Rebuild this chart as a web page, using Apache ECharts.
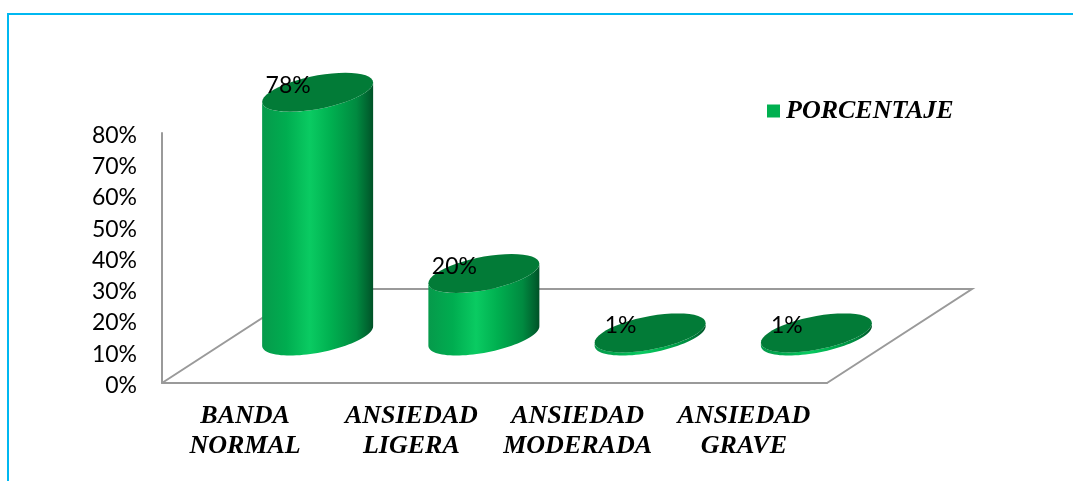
<!DOCTYPE html>
<html>
<head>
<meta charset="utf-8">
<style>
  html, body { margin: 0; padding: 0; background: #fff; }
  #chart { width: 1073px; height: 481px; }
</style>
</head>
<body>
<div id="chart"></div>
<script src="https://cdn.jsdelivr.net/npm/echarts@6/dist/echarts.min.js"></script>
<script>
const categories = ['BANDA\nNORMAL', 'ANSIEDAD\nLIGERA', 'ANSIEDAD\nMODERADA', 'ANSIEDAD\nGRAVE'];
const seriesName = 'PORCENTAJE';
const values = [78, 20, 1, 1];
const valueTicks = [0, 80, 10];

// floor depth of the fake 3d box, in px
const depthX = 145;
const depthY = 94;
const radiusX = 55.5;
const radiusY = 19.5;
const tilt = -0.5;

const myChart = echarts.init(document.getElementById('chart'));

function ellipsePoint(cx, cy, t) {
  return [
    cx + radiusX * Math.cos(t),
    cy + radiusY * (tilt * Math.cos(t) + Math.sqrt(1 - tilt * tilt) * Math.sin(t))
  ];
}

function arc(cx, cy, from, to) {
  const pts = [];
  for (let i = 0; i <= 48; i++) {
    pts.push(ellipsePoint(cx, cy, from + (to - from) * i / 48));
  }
  return pts;
}

function renderFloor(params, api) {
  const c = params.coordSys;
  const left = c.x;
  const right = c.x + c.width;
  const bottom = c.y + c.height;
  const style = { stroke: '#9a9a9a', lineWidth: 2, fill: 'none' };
  return {
    type: 'polyline',
    shape: {
      points: [
        [left, bottom],
        [left + depthX, bottom - depthY],
        [right + depthX, bottom - depthY],
        [right, bottom]
      ]
    },
    style: style
  };
}

function renderCylinder(params, api) {
  const p = api.coord([api.value(0), api.value(1)]);
  const cx = p[0] + depthX / 2;
  const topY = p[1] - depthY / 2;
  const baseY = api.coord([api.value(0), 0])[1] - depthY / 2;
  // body: left edge down, front half of base, right edge up, back along top
  const body = arc(cx, baseY, Math.PI, 0).concat(arc(cx, topY, 0, Math.PI));
  return {
    type: 'group',
    children: [
      {
        type: 'polygon',
        shape: { points: body },
        style: {
          fill: new echarts.graphic.LinearGradient(0, 0, 1, 0, [
            { offset: 0, color: '#069a4b' },
            { offset: 0.22, color: '#00ad50' },
            { offset: 0.43, color: '#0acb62' },
            { offset: 0.62, color: '#00b050' },
            { offset: 0.85, color: '#008a40' },
            { offset: 0.96, color: '#00622f' },
            { offset: 1, color: '#005127' }
          ])
        }
      },
      {
        type: 'polygon',
        shape: { points: arc(cx, topY, 0, Math.PI * 2) },
        style: { fill: '#027b37' }
      },
      {
        type: 'text',
        style: {
          text: api.value(1) + '%',
          x: cx - 29.5,
          y: topY - 7,
          align: 'center',
          verticalAlign: 'middle',
          fill: '#000',
          font: '23px Lato'
        }
      }
    ]
  };
}

const optionData = {
  animation: false,
  backgroundColor: '#fff',
  textStyle: { fontFamily: 'Lato' },
  grid: { left: 162, top: 133, width: 665, height: 250 },
  legend: {
    show: true,
    data: [seriesName],
    left: 762,
    top: 93,
    icon: 'rect',
    itemWidth: 13,
    itemHeight: 13,
    itemGap: 0,
    textStyle: {
      color: '#000',
      fontFamily: 'Liberation Serif',
      fontWeight: 'bold',
      fontStyle: 'italic',
      fontSize: 26,
      padding: [0, 0, 0, 1]
    }
  },
  graphic: [
    {
      type: 'polyline',
      silent: true,
      shape: { points: [[8, 481], [8, 14], [1073, 14]] },
      style: { stroke: '#00b8f1', lineWidth: 2, fill: 'none' }
    }
  ],
  xAxis: {
    type: 'category',
    data: categories,
    axisTick: { show: false },
    axisLine: { show: true, lineStyle: { color: '#9a9a9a', width: 2 } },
    axisLabel: {
      color: '#000',
      margin: 18,
      interval: 0,
      fontFamily: 'Liberation Serif',
      fontWeight: 'bold',
      fontStyle: 'italic',
      fontSize: 26,
      lineHeight: 30
    }
  },
  yAxis: {
    type: 'value',
    min: valueTicks[0],
    max: valueTicks[1],
    interval: valueTicks[2],
    splitLine: { show: false },
    axisTick: { show: false },
    axisLine: { show: true, lineStyle: { color: '#9a9a9a', width: 2 } },
    axisLabel: {
      color: '#000',
      margin: 25,
      formatter: '{tick|{value}%}',
      rich: {
        tick: {
          color: '#000',
          fontFamily: 'Lato',
          fontSize: 23,
          padding: [5, 0, 0, 0]
        }
      }
    }
  },
  series: [
    {
      type: 'custom',
      name: 'floor',
      silent: true,
      z: 1,
      renderItem: renderFloor,
      data: [[0, 0]]
    },
    {
      type: 'custom',
      name: seriesName,
      z: 2,
      itemStyle: { color: '#00b050' },
      renderItem: renderCylinder,
      encode: { x: 0, y: 1 },
      data: values.map((v, i) => [i, v])
    }
  ]
};

myChart.setOption(optionData);
</script>
</body>
</html>
